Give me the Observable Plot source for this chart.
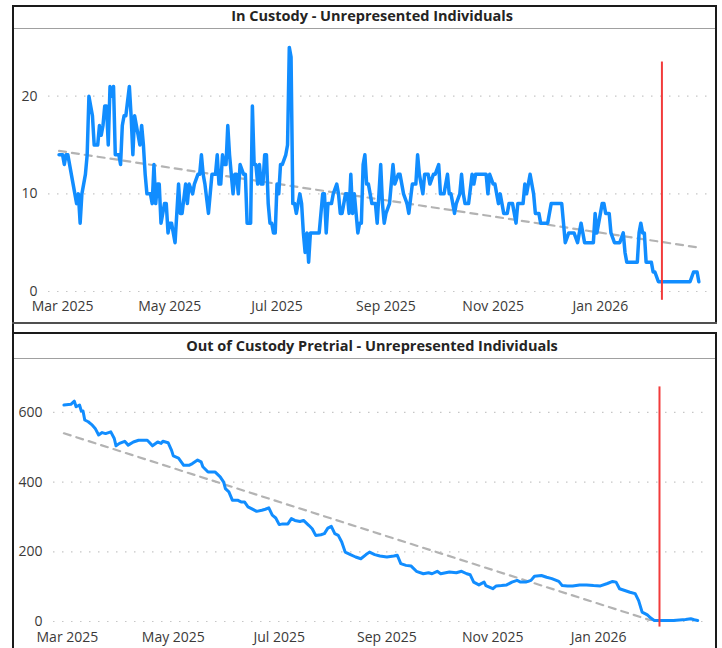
<!DOCTYPE html>
<html>
<head>
<meta charset="utf-8">
<script src="https://cdn.jsdelivr.net/npm/d3@7"></script>
<script src="https://cdn.jsdelivr.net/npm/@observablehq/plot@0.6"></script>
<style>
  html, body { margin: 0; padding: 0; background: #fff; }
  #wrap { position: relative; width: 722px; height: 648px; overflow: hidden; background: #fff;
          font-family: "Segoe UI", "Open Sans", "Noto Sans", sans-serif; }
  .abs { position: absolute; }
  .title { position: absolute; font-weight: 700; font-size: 14.5px; color: #252423; white-space: nowrap;
           transform: translate(-50%, -50%); }
  .chart { position: absolute; }
</style>
</head>
<body>
<div id="wrap">
  <div class="abs" style="left:12px;top:5px;width:705px;height:2px;background:#1a1a1a"></div>
  <div class="abs" style="left:12px;top:5px;width:2px;height:643px;background:#1a1a1a"></div>
  <div class="abs" style="left:715px;top:5px;width:2px;height:318px;background:#1a1a1a"></div>
  <div class="abs" style="left:14px;top:28px;width:701px;height:1px;background:#a0a0a0"></div>
  <div class="abs" style="left:12px;top:322px;width:705px;height:2px;background:#505050"></div>
  <div class="abs" style="left:12px;top:332px;width:705px;height:2px;background:#1a1a1a"></div>
  <div class="abs" style="left:715px;top:332px;width:2px;height:316px;background:#1a1a1a"></div>
  <div class="abs" style="left:14px;top:358px;width:701px;height:1px;background:#a0a0a0"></div>
  <div class="title" id="t1" style="left:372px;top:15px"></div>
  <div class="title" id="t2" style="left:372px;top:345px"></div>
  <div class="chart" id="c1" style="left:14px;top:30px"></div>
  <div class="chart" id="c2" style="left:14px;top:360px"></div>
</div>
<script>
// ---------- data ----------
const titles = ["In Custody - Unrepresented Individuals", "Out of Custody Pretrial - Unrepresented Individuals"];

const xTickDates = ["2025-03-01", "2025-05-01", "2025-07-01", "2025-09-01", "2025-11-01", "2026-01-01"];
const xDomainDates = ["2025-02-21", "2026-03-03T12:00"];

const inCustodyDates = [
"2025-02-27","2025-03-01","2025-03-02","2025-03-03","2025-03-04","2025-03-06","2025-03-09","2025-03-10","2025-03-11","2025-03-12",
"2025-03-14","2025-03-15","2025-03-16","2025-03-18","2025-03-19","2025-03-21","2025-03-22","2025-03-23","2025-03-24","2025-03-25",
"2025-03-26","2025-03-27","2025-03-28","2025-03-29","2025-03-30","2025-03-31","2025-04-02","2025-04-03","2025-04-04","2025-04-05",
"2025-04-06","2025-04-08","2025-04-09","2025-04-10","2025-04-11","2025-04-12","2025-04-14","2025-04-15","2025-04-16","2025-04-17",
"2025-04-18","2025-04-20","2025-04-21","2025-04-22","2025-04-23","2025-04-24","2025-04-25","2025-04-26","2025-04-28","2025-04-29",
"2025-04-30","2025-05-01","2025-05-02","2025-05-04","2025-05-06","2025-05-07","2025-05-08","2025-05-10","2025-05-11","2025-05-12",
"2025-05-14","2025-05-15","2025-05-17","2025-05-18","2025-05-19","2025-05-20","2025-05-21","2025-05-23","2025-05-24","2025-05-25",
"2025-05-27","2025-05-28","2025-05-29","2025-05-30","2025-05-31","2025-06-01","2025-06-02","2025-06-03","2025-06-04","2025-06-06",
"2025-06-07","2025-06-08","2025-06-09","2025-06-10","2025-06-12","2025-06-13","2025-06-14","2025-06-16","2025-06-17","2025-06-18",
"2025-06-19","2025-06-20","2025-06-21","2025-06-22","2025-06-23","2025-06-24","2025-06-25","2025-06-26","2025-06-27","2025-06-28",
"2025-06-29","2025-06-30","2025-07-01","2025-07-02","2025-07-03","2025-07-04","2025-07-06","2025-07-07","2025-07-08","2025-07-09",
"2025-07-10","2025-07-11","2025-07-12","2025-07-14","2025-07-15","2025-07-16","2025-07-17","2025-07-18","2025-07-19","2025-07-20",
"2025-07-25","2025-07-27","2025-07-28","2025-07-29","2025-07-30","2025-08-01","2025-08-02","2025-08-04","2025-08-05","2025-08-06",
"2025-08-07","2025-08-09","2025-08-10","2025-08-11","2025-08-12","2025-08-13","2025-08-14","2025-08-15","2025-08-16","2025-08-17",
"2025-08-18","2025-08-19","2025-08-20","2025-08-21","2025-08-22","2025-08-23","2025-08-24","2025-08-26","2025-08-27","2025-08-29",
"2025-08-30","2025-08-31","2025-09-01","2025-09-03","2025-09-05","2025-09-06","2025-09-08","2025-09-09","2025-09-11","2025-09-13",
"2025-09-14","2025-09-16","2025-09-18","2025-09-19","2025-09-20","2025-09-22","2025-09-23","2025-09-25","2025-09-26","2025-09-28",
"2025-09-29","2025-10-01","2025-10-02","2025-10-04","2025-10-06","2025-10-07","2025-10-08","2025-10-10","2025-10-11","2025-10-13",
"2025-10-14","2025-10-15","2025-10-16","2025-10-18","2025-10-20","2025-10-21","2025-10-22","2025-10-28","2025-10-29","2025-10-30",
"2025-11-01","2025-11-02","2025-11-04","2025-11-05","2025-11-06","2025-11-07","2025-11-09","2025-11-10","2025-11-12","2025-11-13",
"2025-11-14","2025-11-15","2025-11-18","2025-11-19","2025-11-20","2025-11-21","2025-11-22","2025-11-24","2025-11-25","2025-11-27",
"2025-11-28","2025-12-02","2025-12-04","2025-12-10","2025-12-11","2025-12-12","2025-12-14","2025-12-17","2025-12-19","2025-12-20",
"2025-12-21","2025-12-22","2025-12-23","2025-12-28","2025-12-29","2025-12-30","2026-01-02","2026-01-03","2026-01-04","2026-01-06",
"2026-01-07","2026-01-09","2026-01-12","2026-01-14","2026-01-15","2026-01-16","2026-01-22","2026-01-23","2026-01-24","2026-01-25",
"2026-01-26","2026-01-27","2026-01-30","2026-01-31","2026-02-01","2026-02-03","2026-02-21","2026-02-23","2026-02-25","2026-02-26"
];
const inCustodyValues = [
14,14,13,14,14,12,9,10,7,10,
12,14,20,18,15,15,17,16,17,19,
19,15,21,20,21,14,14,13,17,18,
18,21,18,14,18,17,15,17,15,12,
10,10,9,13,9,11,11,7,9,9,
6,7,7,5,11,8,8,11,9,11,
10,11,12,12,14,12,11,8,10,12,
12,14,11,11,14,13,13,17,14,10,
12,12,10,13,12,12,7,7,19,13,
13,11,13,11,11,14,14,9,7,7,
6,6,11,10,13,13,14,15,25,24,
9,9,8,10,9,6,4,6,3,6,
6,10,10,6,9,9,10,11,10,8,
8,10,10,8,12,8,10,8,6,7,
7,13,14,11,11,10,9,9,7,13,
9,7,8,9,13,11,12,12,10,9,
8,11,11,14,12,10,12,12,11,12,
12,13,10,10,12,10,10,8,9,10,
12,10,9,9,12,11,12,12,10,12,
11,11,9,10,9,8,8,9,9,8,
7,9,9,11,10,11,12,10,8,8,
7,7,9,9,7,5,6,6,5,6,
7,6,5,5,8,6,9,9,8,8,
6,5,5,6,4,3,3,6,7,6,
6,3,3,2,2,1,1,2,2,1
];

const pretrialDates = [
"2025-02-27","2025-03-03","2025-03-05","2025-03-06","2025-03-08","2025-03-09","2025-03-10","2025-03-11","2025-03-13","2025-03-15",
"2025-03-17","2025-03-19","2025-03-21","2025-03-23","2025-03-26","2025-03-28","2025-03-29","2025-03-31","2025-04-03","2025-04-05",
"2025-04-08","2025-04-11","2025-04-16","2025-04-17","2025-04-19","2025-04-22","2025-04-24","2025-04-25","2025-04-28","2025-04-30",
"2025-05-01","2025-05-04","2025-05-07","2025-05-10","2025-05-12","2025-05-15","2025-05-17","2025-05-18","2025-05-21","2025-05-25",
"2025-05-28","2025-05-30","2025-05-31","2025-06-02","2025-06-04","2025-06-07","2025-06-09","2025-06-11","2025-06-13","2025-06-15",
"2025-06-18","2025-06-21","2025-06-23","2025-06-25","2025-06-27","2025-06-29","2025-07-01","2025-07-03","2025-07-06","2025-07-08",
"2025-07-10","2025-07-13","2025-07-15","2025-07-18","2025-07-20","2025-07-22","2025-07-25","2025-07-27","2025-07-29","2025-07-31",
"2025-08-02","2025-08-04","2025-08-06","2025-08-08","2025-08-11","2025-08-14","2025-08-17","2025-08-20","2025-08-22","2025-08-25",
"2025-08-28","2025-09-01","2025-09-05","2025-09-07","2025-09-09","2025-09-12","2025-09-15","2025-09-18","2025-09-22","2025-09-25",
"2025-09-27","2025-09-30","2025-10-02","2025-10-07","2025-10-11","2025-10-14","2025-10-17","2025-10-19","2025-10-21","2025-10-24",
"2025-10-27","2025-10-28","2025-11-01","2025-11-03","2025-11-06","2025-11-09","2025-11-12","2025-11-15","2025-11-17","2025-11-20",
"2025-11-23","2025-11-25","2025-11-29","2025-12-02","2025-12-05","2025-12-09","2025-12-11","2025-12-14","2025-12-17","2025-12-21",
"2025-12-25","2025-12-29","2026-01-02","2026-01-06","2026-01-09","2026-01-11","2026-01-13","2026-01-16","2026-01-19","2026-01-22",
"2026-01-24","2026-01-26","2026-01-29","2026-01-31","2026-02-02","2026-02-05","2026-02-13","2026-02-20","2026-02-23","2026-02-25",
"2026-02-27"
];
const pretrialValues = [
621,623,632,616,621,604,604,578,573,565,
554,535,542,539,544,525,504,511,517,506,
515,520,520,515,504,515,511,517,513,491,
475,469,448,448,453,463,458,444,429,429,
415,400,381,372,348,348,343,343,329,324,
316,319,322,326,305,297,278,280,280,295,
290,287,290,276,266,247,249,252,268,273,
252,247,228,199,192,185,180,192,199,192,
188,185,188,190,166,161,159,144,137,140,
137,144,137,142,140,144,137,134,113,105,
113,103,94,102,103,105,113,118,113,113,
118,130,132,127,123,115,103,102,102,105,
105,103,102,109,115,113,94,89,84,80,
60,27,19,10,3,3,3,6,8,5,
3
];

// trend lines (start / end)
const trendDates = ["2025-02-27", "2026-02-26"];
const inCustodyTrend = [14.4, 4.5];
const pretrialTrend = [540, -38];

// red marker line
const markerDate = "2026-02-05";
const inCustodyMarker = [-0.9, 23.5];
const pretrialMarker = [-16, 673];

const inCustodyTicks = [0, 10, 20];
const pretrialTicks = [0, 200, 400, 600];

// ---------- build ----------
const P = d => new Date(d.length === 10 ? d + "T00:00:00Z" : d + "Z");
const xDomain = xDomainDates.map(P);
const xTicks = xTickDates.map(P);
const fmt = d3.utcFormat("%b %Y");

function makeChart(opts) {
  const data = opts.dates.map((d, i) => ({date: P(d), value: opts.values[i]}));
  const trend = trendDates.map((d, i) => ({date: P(d), value: opts.trend[i]}));
  const marker = [{date: P(markerDate), lo: opts.marker[0], hi: opts.marker[1]}];
  return Plot.plot({
    width: 702,
    height: opts.height,
    marginLeft: opts.ml, marginRight: opts.mr, marginTop: opts.mt, marginBottom: opts.mb,
    style: {fontFamily: '"Segoe UI", "Open Sans", "Noto Sans", sans-serif', fontSize: "14px",
            color: "#3b3a39", background: "transparent", overflow: "visible"},
    x: {type: "utc", domain: xDomain, ticks: xTicks, tickFormat: fmt, tickSize: 0, tickPadding: opts.xpad, label: null},
    y: {domain: opts.ydomain, ticks: opts.ticks, tickSize: 0, tickPadding: 11, label: null},
    marks: [
      Plot.gridY(opts.ticks, {stroke: "#c6c6c6", strokeOpacity: 1, strokeWidth: 1.2, strokeDasharray: "1.5,7.5"}),
      Plot.line(trend, {x: "date", y: "value", stroke: "#b3b3b3", strokeWidth: 2.2, strokeDasharray: "7,6", clip: true}),
      Plot.line(data, {x: "date", y: "value", stroke: "#118DFF", strokeWidth: opts.sw, strokeLinejoin: "round", strokeLinecap: "round"}),
      Plot.ruleX(marker, {x: "date", y1: "lo", y2: "hi", stroke: "#f23b3b", strokeWidth: 2})
    ]
  });
}

document.getElementById("t1").textContent = titles[0];
document.getElementById("t2").textContent = titles[1];

document.getElementById("c1").appendChild(makeChart({
  dates: inCustodyDates, values: inCustodyValues, trend: inCustodyTrend, marker: inCustodyMarker,
  ticks: inCustodyTicks, ydomain: [0, 25.5], height: 292, ml: 34, mr: 8, mt: 12, mb: 31, xpad: 10, sw: 3.5
}));
document.getElementById("c2").appendChild(makeChart({
  dates: pretrialDates, values: pretrialValues, trend: pretrialTrend, marker: pretrialMarker,
  ticks: pretrialTicks, ydomain: [0, 700], height: 288, ml: 39, mr: 11, mt: 17, mb: 27, xpad: 11, sw: 3
}));
</script>
</body>
</html>
